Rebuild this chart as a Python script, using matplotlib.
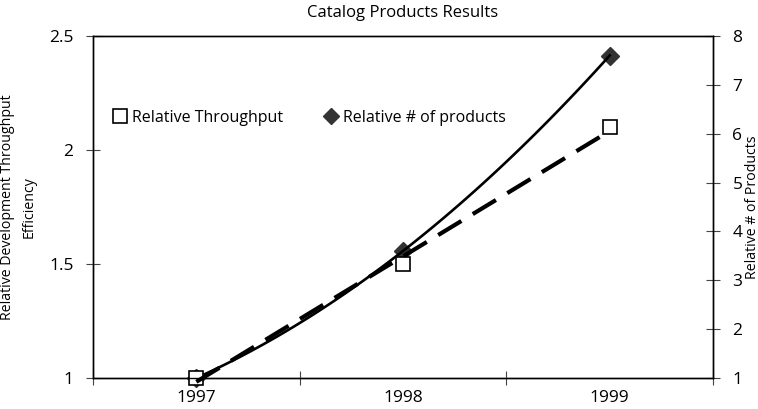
import numpy as np
import matplotlib
matplotlib.use("Agg")
import matplotlib.pyplot as plt
from matplotlib.lines import Line2D

plt.rcParams['font.family'] = ['Open Sans', 'DejaVu Sans']

years = ["1997", "1998", "1999"]
throughput = [1.0, 1.5, 2.1]
num_products = [1.0, 3.6, 7.6]

fig = plt.figure(figsize=(7.58, 4.09), dpi=100)
ax = fig.add_axes([93/758, 1-378/409, 620/758, 342/409])
ax2 = ax.twinx()

x = np.arange(len(years))
xs = np.linspace(x[0], x[-1], 100)

# trendlines
p_lin = np.polyfit(x, throughput, 1)
p_quad = np.polyfit(x, num_products, 2)

ax2.plot(xs, np.polyval(p_quad, xs), color='black', lw=1.9, zorder=3, clip_on=False)
ax.plot(x, np.polyval(p_lin, x), color='black', lw=3.0, dashes=(6.5, 3.2), zorder=4, clip_on=False)

ax.plot(x, throughput, ls='none', marker='s', ms=10.5, mfc='white', mec='black', mew=1.2, zorder=2, clip_on=False)
ax2.plot(x, num_products, ls='none', marker='D', ms=9, mfc='#333333', mec='#333333', zorder=2, clip_on=False)

ax.set_zorder(ax2.get_zorder() + 1)
ax.patch.set_visible(False)

ax.set_xlim(-0.5, 2.5)
ax.set_ylim(1, 2.5)
ax2.set_ylim(1, 8)
ax.set_yticks([1, 1.5, 2, 2.5])
ax.set_yticklabels(["1", "1.5", "2", "2.5"])
ax2.set_yticks(range(1, 9))

ax.set_xticks([-0.5, 0.5, 1.5, 2.5])
ax.set_xticklabels([])
ax.set_xticks(x, minor=True)
ax.set_xticklabels(years, minor=True)
ax.tick_params(axis='x', which='minor', length=0, pad=9, labelsize=12.5)
ax.tick_params(axis='x', which='major', direction='inout', length=10, color='#444444')
ax.tick_params(axis='y', direction='inout', length=10, color='#444444', labelsize=12.5, pad=9)
ax2.tick_params(axis='y', direction='inout', length=10, color='#444444', labelsize=12.5, pad=9)

for a in (ax, ax2):
    for s in a.spines.values():
        s.set_linewidth(1.0)

ax.set_title("Catalog Products Results", fontsize=12, pad=14)
fig.text(18/758, 1-207/409, "Relative Development Throughput\nEfficiency", rotation=90,
         ha='center', va='center', fontsize=10.2, linespacing=1.6, multialignment='center')
fig.text(752/758, 1-207/409, "Relative # of Products", rotation=90,
         ha='center', va='center', fontsize=10.2)

handles = [
    Line2D([], [], ls='none', marker='s', ms=9.5, mfc='white', mec='black', mew=1.2),
    Line2D([], [], ls='none', marker='D', ms=8, mfc='#333333', mec='#333333'),
]
ax.legend(handles, ["Relative Throughput", "Relative # of products"], ncol=2, frameon=False,
          loc='center left', bbox_to_anchor=(0.01, 0.76), fontsize=11.5,
          handlelength=0.8, handletextpad=0.35, columnspacing=2.6)

fig.savefig("out.png", dpi=100)
